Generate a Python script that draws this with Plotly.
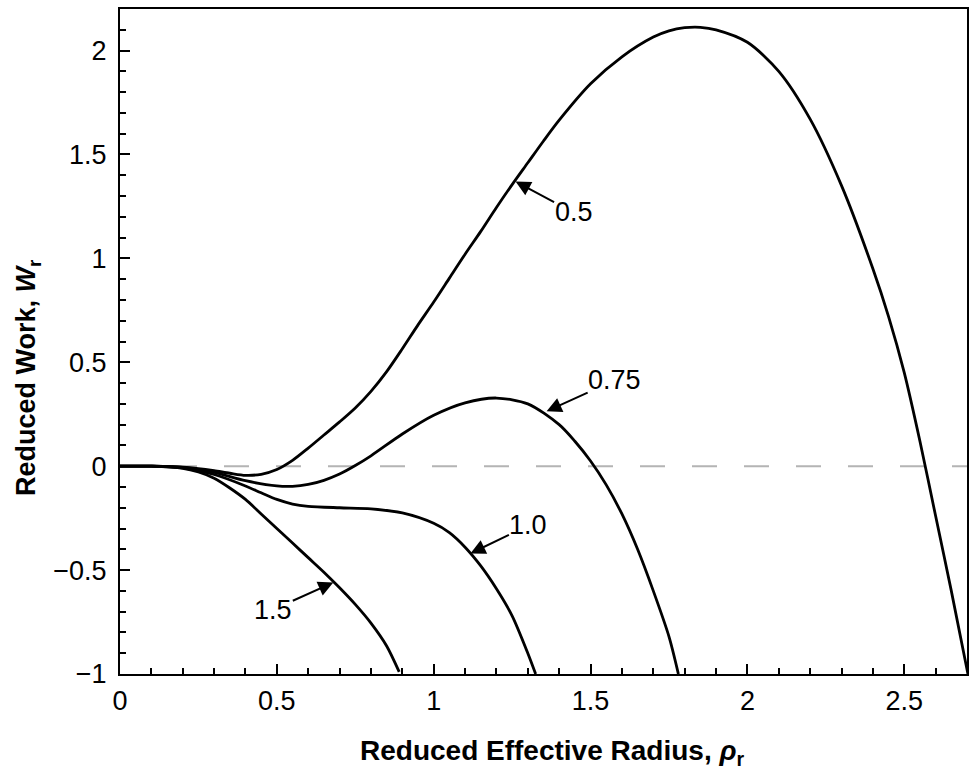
import plotly.graph_objects as go

# ---- data ----
x_05 = [0.0, 0.1, 0.2, 0.25, 0.3, 0.35, 0.4, 0.45, 0.5, 0.55, 0.6, 0.65, 0.7, 0.75, 0.8, 0.85,
        0.9, 0.95, 1.0, 1.05, 1.1, 1.15, 1.2, 1.25, 1.3, 1.35, 1.4, 1.5, 1.6, 1.7, 1.75, 1.8,
        1.85, 1.9, 2.0, 2.1, 2.2, 2.3, 2.4, 2.45, 2.5, 2.55, 2.6, 2.65, 2.703]
y_05 = [0.0, 0.0, -0.005, -0.012, -0.022, -0.034, -0.044, -0.039, -0.016, 0.028, 0.087,
        0.15, 0.213, 0.28, 0.36, 0.455, 0.565, 0.68, 0.79, 0.905, 1.02, 1.13, 1.245, 1.355,
        1.46, 1.565, 1.665, 1.84, 1.97, 2.065, 2.095, 2.11, 2.112, 2.10, 2.04, 1.90, 1.67,
        1.35, 0.95, 0.72, 0.45, 0.12, -0.24, -0.60, -1.0]

x_075 = [0.0, 0.1, 0.2, 0.3, 0.4, 0.5, 0.55, 0.6, 0.65, 0.7, 0.75, 0.8, 0.9, 1.0, 1.1, 1.2,
         1.3, 1.4, 1.45, 1.5, 1.55, 1.6, 1.65, 1.7, 1.75, 1.78]
y_075 = [0.0, 0.0, -0.006, -0.03, -0.07, -0.095, -0.097, -0.088, -0.068, -0.038, 0.003,
         0.05, 0.155, 0.245, 0.305, 0.328, 0.30, 0.20, 0.12, 0.025, -0.09, -0.23, -0.40,
         -0.60, -0.82, -1.0]

x_10 = [0.0, 0.1, 0.2, 0.3, 0.4, 0.45, 0.5, 0.55, 0.6, 0.7, 0.8, 0.9, 1.0, 1.05, 1.1, 1.15,
        1.2, 1.25, 1.3, 1.325]
y_10 = [0.0, 0.0, -0.008, -0.04, -0.095, -0.128, -0.16, -0.182, -0.193, -0.20, -0.205,
        -0.225, -0.275, -0.32, -0.39, -0.48, -0.59, -0.72, -0.90, -1.0]

x_15 = [0.0, 0.1, 0.2, 0.25, 0.3, 0.35, 0.4, 0.45, 0.5, 0.55, 0.6, 0.65, 0.7, 0.75, 0.8,
        0.85, 0.89]
y_15 = [0.0, 0.0, -0.01, -0.028, -0.058, -0.105, -0.16, -0.23, -0.30, -0.37, -0.44, -0.51,
        -0.585, -0.665, -0.755, -0.865, -0.99]

curve_labels = ["0.5", "0.75", "1.0", "1.5"]
label_points_x = [1.261, 1.36, 1.117, 0.68]
label_points_y = [1.37, 0.264, -0.42, -0.56]

x_ticks = [0, 0.5, 1, 1.5, 2, 2.5]
x_tick_text = ["0", "0.5", "1", "1.5", "2", "2.5"]
y_ticks = [-1, -0.5, 0, 0.5, 1, 1.5, 2]
y_tick_text = ["\u22121", "\u22120.5", "0", "0.5", "1", "1.5", "2"]

FONT = "Liberation Sans, Arial, sans-serif"

fig = go.Figure()

# zero reference line (dashed grey)
fig.add_trace(go.Scatter(x=[0, 2.7], y=[0, 0], mode="lines",
                         line=dict(color="#b4b4b4", width=2, dash="25px,27px"),
                         hoverinfo="skip", showlegend=False))

for xs, ys in [(x_05, y_05), (x_075, y_075), (x_10, y_10), (x_15, y_15)]:
    fig.add_trace(go.Scatter(x=xs, y=ys, mode="lines",
                             line=dict(color="black", width=2.8, shape="spline", smoothing=0.8),
                             showlegend=False))

# arrow annotations: text offset in pixels from arrow tip
offsets = [(58, 31), (68, -31), (58, -28), (-60, 27)]
for lab, px, py, (ax, ay) in zip(curve_labels, label_points_x, label_points_y, offsets):
    fig.add_annotation(x=px, y=py, xref="x", yref="y", text=lab, showarrow=True,
                       ax=ax, ay=ay, arrowhead=2, arrowsize=1.5, arrowwidth=2,
                       arrowcolor="black", standoff=0, borderpad=0,
                       font=dict(family=FONT, size=27, color="black"))

# axis titles
fig.add_annotation(x=(552 - 120) / 847, y=(674 - 752) / 665, xref="paper", yref="paper",
                   text="<b>Reduced Effective Radius, <i>\u03c1</i><sub>r</sub></b>",
                   showarrow=False, xanchor="center", yanchor="middle",
                   font=dict(family=FONT, size=28, color="black"))
fig.add_annotation(x=(28 - 120) / 847, y=(674 - 378) / 665, xref="paper", yref="paper",
                   text="<b>Reduced Work, <i>W</i><sub>r</sub></b>", textangle=-90,
                   showarrow=False, xanchor="center", yanchor="middle",
                   font=dict(family=FONT, size=27, color="black"))

axis_common = dict(showline=True, linecolor="black", linewidth=2, mirror=True,
                   ticks="inside", ticklen=10, tickwidth=2, tickcolor="black",
                   showgrid=False, zeroline=False, automargin=False,
                   tickfont=dict(family=FONT, size=27, color="black"))

fig.update_xaxes(range=[0, 2.7], tickvals=x_ticks, ticktext=x_tick_text,
                 ticklabelstandoff=2,
                 minor=dict(ticks="inside", dtick=0.1, tick0=0, ticklen=6, tickwidth=2,
                            tickcolor="black", showgrid=False),
                 **axis_common)
fig.update_yaxes(range=[-1, 2.2], tickvals=y_ticks, ticktext=y_tick_text,
                 ticklabelstandoff=6,
                 minor=dict(ticks="inside", dtick=0.1, tick0=0, ticklen=6, tickwidth=2,
                            tickcolor="black", showgrid=False),
                 **axis_common)

fig.update_layout(width=973, height=771,
                  margin=dict(l=120, r=6, t=9, b=97),
                  paper_bgcolor="white", plot_bgcolor="white",
                  showlegend=False)

fig.write_html("out.html", config={"displayModeBar": False},
               post_script="document.body.style.margin='0px';document.body.style.overflow='hidden';")
